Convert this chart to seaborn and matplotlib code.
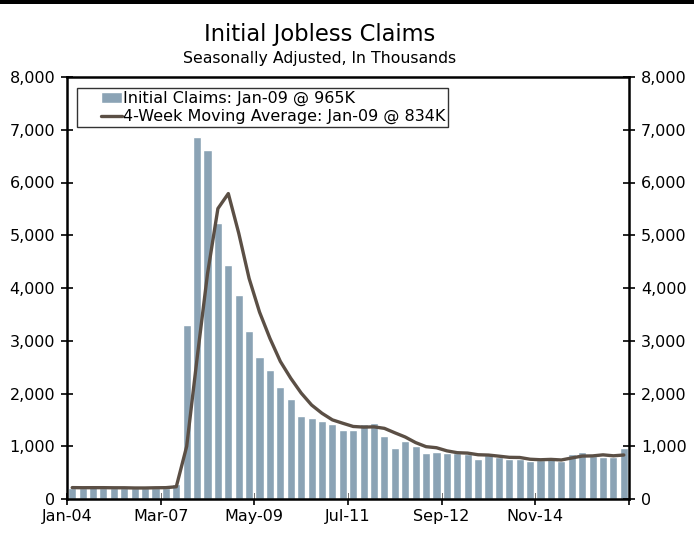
import numpy as np
import pandas as pd
import matplotlib
matplotlib.use("Agg")
import matplotlib.pyplot as plt
from matplotlib.patches import Rectangle
from matplotlib.lines import Line2D
from matplotlib.container import BarContainer
from matplotlib.legend_handler import HandlerPatch, HandlerLine2D, update_from_first_child
from matplotlib.ticker import FuncFormatter
import seaborn as sns

# Weekly initial claims, seasonally adjusted (thousands), week ending Jan-04 .. Jan-09
weeks = pd.date_range("2020-01-04", periods=54, freq="7D").strftime("%b-%d").tolist()
initial_claims = [
    214, 207, 223, 217, 204, 206, 211, 216, 217, 211, 282,
    3307, 6867, 6615, 5237, 4442, 3867, 3176, 2687, 2446, 2126, 1897,
    1566, 1540, 1482, 1413, 1310, 1307, 1422, 1435, 1191, 971, 1104,
    1011, 881, 893, 866, 873, 849, 767, 842, 791, 758, 757,
    711, 748, 787, 716, 862, 892, 806, 787, 790, 965,
]
moving_average = [
    216, 214, 215, 215, 213, 213, 209, 209, 213, 215, 232,
    998, 2667, 4268, 5506, 5790, 5040, 4180, 3543, 3044, 2608, 2289,
    2009, 1782, 1625, 1500, 1436, 1375, 1363, 1368, 1339, 1255, 1175,
    1069, 992, 972, 913, 878, 870, 839, 833, 812, 790, 787,
    754, 744, 751, 740, 778, 814, 817, 837, 819, 834,
]
tick_labels = ["Jan-04", "Mar-07", "May-09", "Jul-11", "Sep-12", "Nov-14", ""]
y_ticks = list(range(0, 8001, 1000))

df = pd.DataFrame({
    "week": weeks,
    "pos": np.arange(len(weeks)),
    "claims": initial_claims,
    "avg": moving_average,
})

sns.set_theme(style="white")
plt.rcParams["font.family"] = ["DejaVu Sans"]
plt.rcParams["text.color"] = "black"

fig = plt.figure(figsize=(6.94, 5.36), dpi=100)
W, H = 694, 536
ax = fig.add_axes([67 / W, 1 - 499 / H, (629 - 67) / W, (499 - 77) / H])

sns.barplot(data=df, x="week", y="claims", color="#8ba3b5", saturation=1,
            width=0.78, ax=ax, label="Initial Claims: Jan-09 @ 965K")
sns.lineplot(data=df, x="pos", y="avg", color="#5b4f45", linewidth=2.4,
             ax=ax, label="4-Week Moving Average: Jan-09 @ 834K")

ax.set_xlim(-0.5, len(weeks) - 0.5)
ax.set_ylim(0, 8000)
ax.set_xlabel("")
ax.set_ylabel("")

tick_pos = [-0.5 + 9 * i for i in range(len(tick_labels))]
ax.set_xticks(tick_pos)
ax.set_xticklabels(tick_labels)
ax.set_yticks(y_ticks)
fmt = FuncFormatter(lambda v, p: f"{int(v):,}")
ax.yaxis.set_major_formatter(fmt)

for s in ax.spines.values():
    s.set_color("black")
    s.set_linewidth(1.8)

ax.tick_params(axis="both", which="major", direction="inout", length=9,
               width=1.2, color="black", labelsize=11.5, labelcolor="black",
               bottom=True, left=True)
ax.tick_params(axis="y", pad=4)
ax.tick_params(axis="x", pad=3)

ax2 = ax.twinx()
ax2.set_ylim(0, 8000)
ax2.set_yticks(y_ticks)
ax2.yaxis.set_major_formatter(fmt)
ax2.tick_params(axis="y", direction="inout", length=9, width=1.2,
                color="black", labelsize=11.5, labelcolor="black", right=True, pad=4)
for s in ax2.spines.values():
    s.set_visible(False)
ax2.grid(False)
ax.grid(False)

# Legend: bars first, then the average line; handles inset from the frame edge
handles, labels = ax.get_legend_handles_labels()
order = sorted(range(len(labels)), key=lambda i: 0 if labels[i].startswith("Initial") else 1)
handles = [handles[i] for i in order]
labels = [labels[i] for i in order]
hmap = {
    BarContainer: HandlerPatch(xpad=1.3, update_func=update_from_first_child),
    Line2D: HandlerLine2D(xpad=1.3),
}
leg = ax.legend(handles, labels, handler_map=hmap, loc="upper left",
                bbox_to_anchor=(0.0178, 0.974), borderaxespad=0,
                fontsize=11.5, frameon=True, fancybox=False, edgecolor="black",
                borderpad=0.2, labelspacing=0.17, handlelength=2.6,
                handletextpad=0.05, handleheight=0.6, labelcolor="black")
leg.get_frame().set_linewidth(1.0)
leg.get_frame().set_facecolor("white")

fig.text(320 / W, 1 - 35 / H, "Initial Jobless Claims", ha="center", va="center",
         fontsize=16.3, color="black")
fig.text(320 / W, 1 - 58 / H, "Seasonally Adjusted, In Thousands", ha="center",
         va="center", fontsize=11.3, color="black")

fig.patches.append(Rectangle((0, 1 - 4 / H), 1, 4 / H, transform=fig.transFigure,
                             facecolor="black", edgecolor="none"))

fig.savefig("out.png", dpi=100)
